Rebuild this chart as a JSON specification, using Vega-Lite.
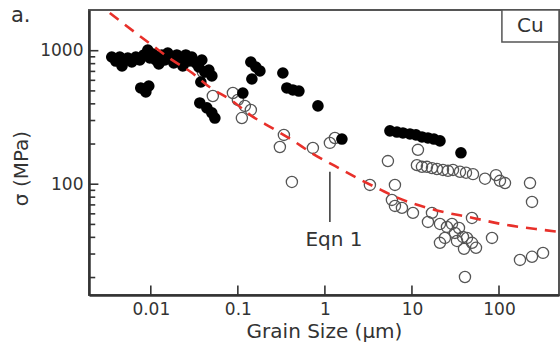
{
  "$schema": "https://vega.github.io/schema/vega-lite/v6.json",
  "width": 470,
  "height": 285,
  "autosize": "none",
  "padding": {"left": 89, "top": 10, "right": 1, "bottom": 51},
  "background": "white",
  "config": {"view": {"stroke": "#555", "strokeWidth": 2}, "font": "DejaVu Sans"},
  "title": {"text": "a.", "anchor": "start", "frame": "group", "dx": -78, "dy": 22, "fontSize": 21, "fontWeight": "normal", "font": "DejaVu Sans", "color": "#333"},
  "datasets": {
    "filled": [
      {"x": 0.00356, "y": 897}, {"x": 0.00396, "y": 837}, {"x": 0.0044, "y": 897}, {"x": 0.00467, "y": 768},
      {"x": 0.0049, "y": 837}, {"x": 0.00544, "y": 882}, {"x": 0.00605, "y": 823}, {"x": 0.00673, "y": 897},
      {"x": 0.00748, "y": 852}, {"x": 0.00832, "y": 929}, {"x": 0.00924, "y": 1012}, {"x": 0.00975, "y": 882},
      {"x": 0.01055, "y": 945}, {"x": 0.01141, "y": 852}, {"x": 0.01236, "y": 795}, {"x": 0.01337, "y": 929},
      {"x": 0.01449, "y": 852}, {"x": 0.01567, "y": 961}, {"x": 0.01698, "y": 882}, {"x": 0.01837, "y": 809},
      {"x": 0.01991, "y": 929}, {"x": 0.02154, "y": 852}, {"x": 0.02333, "y": 768}, {"x": 0.02524, "y": 929},
      {"x": 0.02735, "y": 837}, {"x": 0.02958, "y": 897}, {"x": 0.03289, "y": 809}, {"x": 0.03562, "y": 755},
      {"x": 0.03855, "y": 852}, {"x": 0.04178, "y": 693}, {"x": 0.04645, "y": 717}, {"x": 0.03758, "y": 583},
      {"x": 0.05027, "y": 647}, {"x": 0.00767, "y": 526}, {"x": 0.00877, "y": 491}, {"x": 0.00948, "y": 544},
      {"x": 0.03656, "y": 406}, {"x": 0.04406, "y": 373}, {"x": 0.05027, "y": 342}, {"x": 0.05445, "y": 313},
      {"x": 0.1141, "y": 482}, {"x": 0.141, "y": 823}, {"x": 0.161, "y": 755}, {"x": 0.1791, "y": 705},
      {"x": 0.1449, "y": 614}, {"x": 0.3289, "y": 681}, {"x": 0.3656, "y": 526}, {"x": 0.4287, "y": 508},
      {"x": 0.5027, "y": 499}, {"x": 0.8318, "y": 386}, {"x": 1.568, "y": 218}, {"x": 5.585, "y": 251},
      {"x": 6.725, "y": 246}, {"x": 7.88, "y": 242}, {"x": 9.484, "y": 238}, {"x": 11.12, "y": 234},
      {"x": 13.03, "y": 226}, {"x": 15.27, "y": 222}, {"x": 17.9, "y": 218}, {"x": 20.98, "y": 211},
      {"x": 36.56, "y": 172}
    ],
    "open": [
      {"x": 0.03963, "y": 693}, {"x": 0.0516, "y": 458}, {"x": 0.0877, "y": 482}, {"x": 0.1, "y": 428},
      {"x": 0.1203, "y": 386}, {"x": 0.1112, "y": 313}, {"x": 0.141, "y": 360}, {"x": 0.338, "y": 234},
      {"x": 0.304, "y": 190}, {"x": 0.7278, "y": 187}, {"x": 1.141, "y": 204}, {"x": 1.303, "y": 222},
      {"x": 0.4176, "y": 104}, {"x": 3.289, "y": 98.8}, {"x": 6.377, "y": 98.8}, {"x": 5.297, "y": 149},
      {"x": 11.72, "y": 181}, {"x": 11.41, "y": 139}, {"x": 13.03, "y": 135}, {"x": 14.86, "y": 135},
      {"x": 16.98, "y": 132}, {"x": 19.37, "y": 130}, {"x": 22.71, "y": 128}, {"x": 25.93, "y": 126},
      {"x": 29.61, "y": 128}, {"x": 35.62, "y": 124}, {"x": 41.77, "y": 122}, {"x": 50.27, "y": 119},
      {"x": 69.06, "y": 110}, {"x": 92.42, "y": 117}, {"x": 102.6, "y": 106}, {"x": 117.2, "y": 102},
      {"x": 227.1, "y": 102}, {"x": 239.4, "y": 73.7}, {"x": 5.888, "y": 76.3}, {"x": 6.377, "y": 68.8},
      {"x": 7.674, "y": 66.5}, {"x": 10.27, "y": 61.0}, {"x": 16.98, "y": 61.0}, {"x": 15.27, "y": 52.2},
      {"x": 20.98, "y": 50.4}, {"x": 25.24, "y": 47.9}, {"x": 28.84, "y": 50.4}, {"x": 31.21, "y": 43.2},
      {"x": 32.9, "y": 37.6}, {"x": 38.56, "y": 40.3}, {"x": 42.89, "y": 39.6}, {"x": 48.94, "y": 36.4},
      {"x": 54.43, "y": 33.4}, {"x": 39.62, "y": 32.8}, {"x": 20.98, "y": 36.4}, {"x": 83.13, "y": 39.6},
      {"x": 48.94, "y": 55.9}, {"x": 40.65, "y": 20.2}, {"x": 174.2, "y": 27.1}, {"x": 239.4, "y": 28.6},
      {"x": 320.4, "y": 30.6}, {"x": 23.9, "y": 39.6}, {"x": 34.7, "y": 47.0}
    ],
    "eqn": [
      {"x": 0.00338, "y": 1914}, {"x": 0.01026, "y": 1103}, {"x": 0.01698, "y": 865}, {"x": 0.02884, "y": 693},
      {"x": 0.04893, "y": 526}, {"x": 0.08318, "y": 428}, {"x": 0.1449, "y": 324}, {"x": 0.246, "y": 264},
      {"x": 0.4176, "y": 215}, {"x": 0.7278, "y": 169}, {"x": 1.303, "y": 137}, {"x": 2.333, "y": 111.5},
      {"x": 4.4, "y": 90.7}, {"x": 6.9, "y": 79.0}, {"x": 18.37, "y": 64.2}, {"x": 50.27, "y": 55.9},
      {"x": 105.4, "y": 50.4}, {"x": 320.4, "y": 45.5}, {"x": 489, "y": 44.0}
    ],
    "ticks": [
      {"x": 0.01, "x2": 0.01, "y": 14.8, "y2": 17.4},
      {"x": 0.1, "x2": 0.1, "y": 14.8, "y2": 17.4},
      {"x": 1, "x2": 1, "y": 14.8, "y2": 17.4},
      {"x": 10, "x2": 10, "y": 14.8, "y2": 17.4},
      {"x": 100, "x2": 100, "y": 14.8, "y2": 17.4},
      {"x": 0.00195, "x2": 0.0025, "y": 100, "y2": 100},
      {"x": 0.00195, "x2": 0.0025, "y": 1000, "y2": 1000},
      {"x": 0.00195, "x2": 0.0023, "y": 20, "y2": 20},
      {"x": 0.00195, "x2": 0.0023, "y": 30, "y2": 30},
      {"x": 0.00195, "x2": 0.0023, "y": 40, "y2": 40},
      {"x": 0.00195, "x2": 0.0023, "y": 50, "y2": 50},
      {"x": 0.00195, "x2": 0.0023, "y": 60, "y2": 60},
      {"x": 0.00195, "x2": 0.0023, "y": 70, "y2": 70},
      {"x": 0.00195, "x2": 0.0023, "y": 80, "y2": 80},
      {"x": 0.00195, "x2": 0.0023, "y": 90, "y2": 90},
      {"x": 0.00195, "x2": 0.0023, "y": 200, "y2": 200},
      {"x": 0.00195, "x2": 0.0023, "y": 300, "y2": 300},
      {"x": 0.00195, "x2": 0.0023, "y": 400, "y2": 400},
      {"x": 0.00195, "x2": 0.0023, "y": 500, "y2": 500},
      {"x": 0.00195, "x2": 0.0023, "y": 600, "y2": 600},
      {"x": 0.00195, "x2": 0.0023, "y": 700, "y2": 700},
      {"x": 0.00195, "x2": 0.0023, "y": 800, "y2": 800},
      {"x": 0.00195, "x2": 0.0023, "y": 900, "y2": 900}
    ],
    "pointer": [{"x": 1.141, "y": 124, "y2": 52.2}],
    "eqnlabel": [{"x": 1.27, "y": 38.3, "label": "Eqn 1"}],
    "box": [{"x": 108, "x2": 489, "y": 1161, "y2": 2018, "label": "Cu", "tx": 229, "ty": 1531}]
  },
  "encoding": {
    "x": {
      "field": "x", "type": "quantitative",
      "scale": {"type": "log", "domain": [0.00195, 489], "nice": false},
      "axis": {
        "title": "Grain Size (μm)", "values": [0.01, 0.1, 1, 10, 100], "format": "~g",
        "grid": false, "ticks": false,
        "domainColor": "#333", "domainWidth": 2.5, "labelFlush": false,
        "labelFont": "DejaVu Sans", "labelFontSize": 17, "labelColor": "#333", "labelPadding": 6,
        "titleFont": "DejaVu Sans", "titleFontSize": 20, "titleFontWeight": "normal", "titleColor": "#333", "titlePadding": 4
      }
    },
    "y": {
      "field": "y", "type": "quantitative",
      "scale": {"type": "log", "domain": [14.8, 2018], "nice": false},
      "axis": null
    }
  },
  "resolve": {"axis": {"y": "independent"}},
  "layer": [
    {
      "data": {"name": "open"},
      "mark": {"type": "point", "shape": "circle", "filled": false, "stroke": "#555", "strokeWidth": 1.3, "size": 125, "opacity": 1},
      "encoding": {
        "y": {
          "field": "y", "type": "quantitative",
          "scale": {"type": "log", "domain": [14.8, 2018], "nice": false},
          "axis": {
            "orient": "left", "title": "σ (MPa)",
            "values": [100, 1000], "format": "~g",
            "grid": false, "ticks": false,
            "domainColor": "#333", "domainWidth": 2.5,
            "labelFont": "DejaVu Sans", "labelFontSize": 17, "labelColor": "#333", "labelPadding": 6,
            "titleFont": "DejaVu Sans", "titleFontSize": 20, "titleFontWeight": "normal", "titleColor": "#333",
            "titleX": -68, "titleY": 158, "titleAngle": -90, "titleBaseline": "middle", "titleAlign": "center"
          }
        }
      }
    },
    {
      "data": {"name": "filled"},
      "mark": {"type": "circle", "color": "#000", "size": 135, "opacity": 1}
    },
    {
      "data": {"name": "eqn"},
      "mark": {"type": "line", "color": "#e8302a", "strokeWidth": 2.6, "strokeDash": [11, 8], "interpolate": "monotone"}
    },
    {
      "data": {"name": "ticks"},
      "mark": {"type": "rule", "color": "#333", "strokeWidth": 1.6},
      "encoding": {"x2": {"field": "x2"}, "y2": {"field": "y2"}}
    },
    {
      "data": {"name": "pointer"},
      "mark": {"type": "rule", "color": "#333", "strokeWidth": 1.5},
      "encoding": {"y2": {"field": "y2"}}
    },
    {
      "data": {"name": "eqnlabel"},
      "mark": {"type": "text", "font": "DejaVu Sans", "fontSize": 20, "color": "#333", "align": "center", "baseline": "middle"},
      "encoding": {"text": {"field": "label"}}
    },
    {
      "data": {"name": "box"},
      "mark": {"type": "rect", "fill": "white", "stroke": "#555", "strokeWidth": 1.5},
      "encoding": {"x2": {"field": "x2"}, "y2": {"field": "y2"}}
    },
    {
      "data": {"name": "box"},
      "mark": {"type": "text", "font": "DejaVu Sans", "fontSize": 20, "color": "#333", "align": "center", "baseline": "middle"},
      "encoding": {
        "x": {"field": "tx", "type": "quantitative", "scale": {"type": "log", "domain": [0.00195, 489], "nice": false}},
        "y": {"field": "ty", "type": "quantitative", "scale": {"type": "log", "domain": [14.8, 2018], "nice": false}, "axis": null},
        "text": {"field": "label"}
      }
    }
  ]
}
